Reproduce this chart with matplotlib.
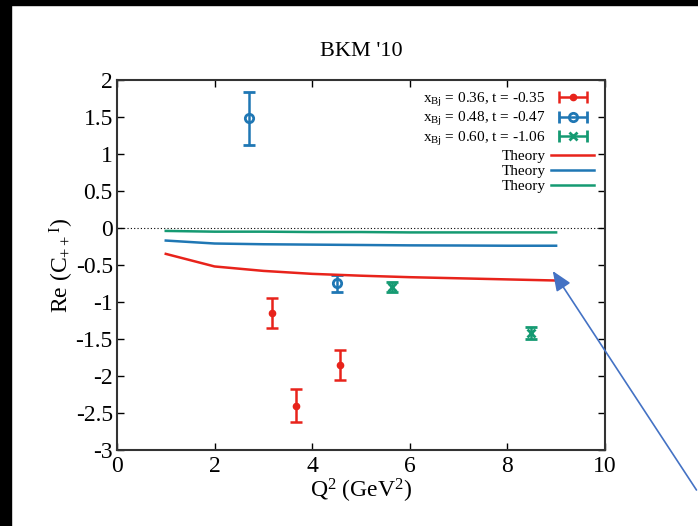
import matplotlib
matplotlib.use('Agg')
import numpy as np
import matplotlib.pyplot as plt
from matplotlib.patches import Rectangle
from matplotlib.legend_handler import HandlerErrorbar


# measured points (Q^2, Re C, error)
red_q2 = [3.18, 3.67, 4.57]
red_val = [-1.15, -2.40, -1.85]
red_err = [0.20, 0.22, 0.20]

blue_q2 = [2.70, 4.50]
blue_val = [1.48, -0.75]
blue_err = [0.36, 0.12]

green_q2 = [5.63, 8.48]
green_val = [-0.80, -1.42]
green_err = [0.07, 0.08]

# theory curves
theory_q2 = [1, 2, 3, 4, 5, 6, 7, 8, 9]
theory_red = [-0.35, -0.52, -0.58, -0.62, -0.645, -0.665, -0.68, -0.695, -0.71]
theory_blue = [-0.17, -0.21, -0.22, -0.225, -0.23, -0.235, -0.237, -0.24, -0.24]
theory_green = [-0.04, -0.05, -0.05, -0.055, -0.055, -0.06, -0.06, -0.06, -0.06]

labels = [
    r'x$_{\mathrm{Bj}}$ = 0.36, t = -0.35',
    r'x$_{\mathrm{Bj}}$ = 0.48, t = -0.47',
    r'x$_{\mathrm{Bj}}$ = 0.60, t = -1.06',
]

RED = '#e8231b'
BLUE = '#1f77b4'
GREEN = '#159a72'

plt.rcParams['font.family'] = ['Liberation Serif', 'DejaVu Serif']
plt.rcParams['mathtext.fontset'] = 'custom'
plt.rcParams['mathtext.rm'] = 'Liberation Serif'
plt.rcParams['mathtext.it'] = 'Liberation Serif:italic'

fig = plt.figure(figsize=(6.98, 5.26), dpi=100)
ax = fig.add_axes([0.1676, 0.1445, 0.699, 0.7035])

# screenshot frame bands
fig.add_artist(Rectangle((0, 0.99), 1, 0.01, transform=fig.transFigure,
                         color='black', zorder=0))
fig.add_artist(Rectangle((0, 0), 0.0158, 1, transform=fig.transFigure,
                         color='black', zorder=0))

ax.axhline(0, color='black', lw=0.8, ls=(0, (1, 2)))

styles = [
    dict(fmt='o', color=RED, ms=4.5),
    dict(fmt='o', color=BLUE, ms=6, mfc='none', mew=2),
    dict(fmt='x', color=GREEN, ms=6, mew=2),
]
common = dict(capsize=4, elinewidth=1.8, capthick=1.8)

for q2, val, err, st in zip([red_q2, blue_q2, green_q2],
                            [red_val, blue_val, green_val],
                            [red_err, blue_err, green_err], styles):
    ax.errorbar(q2, val, yerr=err, **st, **common)

# horizontal error-bar handles for the legend
handles = []
for st in styles:
    h = ax.errorbar([np.nan], [np.nan], xerr=[1], **st, **common)
    handles.append(h)

theory = []
for ys, c in zip([theory_red, theory_blue, theory_green], [RED, BLUE, GREEN]):
    ln, = ax.plot(theory_q2, ys, color=c, lw=1.8)
    theory.append(ln)

ax.set_xlim(0, 10)
ax.set_ylim(-3, 2)
ax.set_xticks([0, 2, 4, 6, 8, 10])
ax.set_yticks([-3, -2.5, -2, -1.5, -1, -0.5, 0, 0.5, 1, 1.5, 2])
ax.set_yticklabels(['-3', '-2.5', '-2', '-1.5', '-1', '-0.5', '0',
                    '0.5', '1', '1.5', '2'])
ax.tick_params(direction='in', top=True, right=True, labelsize=17,
               length=5, width=1)
ax.tick_params(axis='x', pad=4)
ax.tick_params(axis='y', pad=3)
for s in ax.spines.values():
    s.set_linewidth(1.5)
    s.set_color('#333333')

ax.set_xlabel(r'Q$^2$ (GeV$^2$)', fontsize=17, labelpad=0)
ax.set_ylabel(r'Re (C$_{++}$$^{\mathrm{I}}$)', fontsize=17, labelpad=0)
ax.set_title("BKM '10", fontsize=16, pad=17)

ax.legend(handles + theory, labels + ['Theory'] * 3,
          loc='upper right', frameon=False, markerfirst=False,
          fontsize=11, handlelength=2.8, labelspacing=0.1,
          borderaxespad=0.3, handletextpad=0.4,
          handler_map={type(handles[0]): HandlerErrorbar(xerr_size=0.9)})

# arrow annotation pointing at the red theory curve
ax.annotate('', xy=(8.9, -0.55), xycoords='data',
            xytext=(1.0, 0.064), textcoords='figure fraction',
            arrowprops=dict(arrowstyle='-|>,head_length=1.2,head_width=0.5',
                            color='#4472C4', lw=1.2),
            annotation_clip=False)

fig.savefig('out.png', dpi=100)
